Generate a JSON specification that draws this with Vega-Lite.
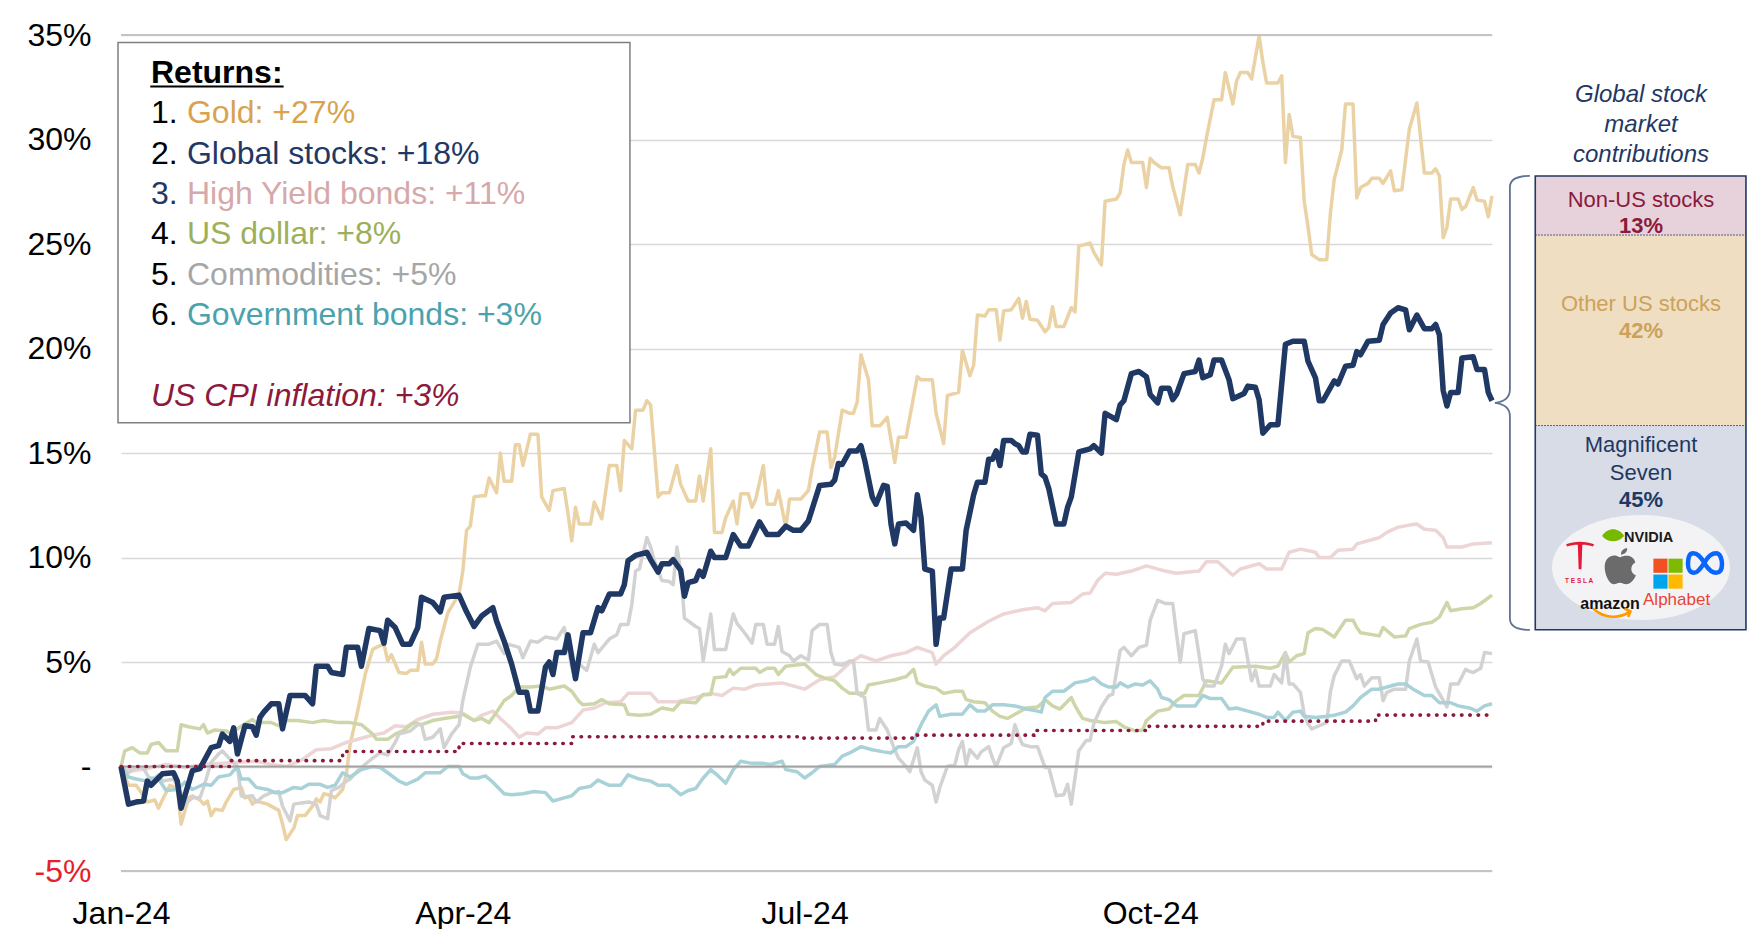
{
  "$schema": "https://vega.github.io/schema/vega-lite/v6.json",
  "background": "white",
  "padding": {"left": 26, "top": 19, "right": 0, "bottom": 0},
  "spacing": 0,
  "bounds": "flush",
  "config": {"view": {"stroke": null}, "font": "Liberation Sans"},
  "datasets": {
    "series": [
      {"s":"Gold","day":0,"v":0},{"s":"Gold","day":2,"v":-0.9},{"s":"Gold","day":4,"v":-0.9},{"s":"Gold","day":6,"v":-1.4},{"s":"Gold","day":7,"v":-1.7},{"s":"Gold","day":9,"v":-1.6},{"s":"Gold","day":10,"v":-2.0},{"s":"Gold","day":11,"v":-1.6},{"s":"Gold","day":13,"v":-0.9},{"s":"Gold","day":15,"v":-1.05},{"s":"Gold","day":16,"v":-2.75},{"s":"Gold","day":18,"v":-1.5},{"s":"Gold","day":19,"v":-1.4},{"s":"Gold","day":21,"v":-1.6},{"s":"Gold","day":22,"v":-1.8},{"s":"Gold","day":23,"v":-1.65},{"s":"Gold","day":24,"v":-2.35},{"s":"Gold","day":25,"v":-2.05},{"s":"Gold","day":27,"v":-2.1},{"s":"Gold","day":28,"v":-1.7},{"s":"Gold","day":30,"v":-1.1},{"s":"Gold","day":32,"v":-1.0},{"s":"Gold","day":33,"v":-1.5},{"s":"Gold","day":34,"v":-1.45},{"s":"Gold","day":35,"v":-1.8},{"s":"Gold","day":36,"v":-1.65},{"s":"Gold","day":39,"v":-1.8},{"s":"Gold","day":42,"v":-2.1},{"s":"Gold","day":43,"v":-2.75},{"s":"Gold","day":44,"v":-3.5},{"s":"Gold","day":46,"v":-2.95},{"s":"Gold","day":47,"v":-2.35},{"s":"Gold","day":49,"v":-2.35},{"s":"Gold","day":51,"v":-1.9},{"s":"Gold","day":52,"v":-1.55},{"s":"Gold","day":53,"v":-1.7},{"s":"Gold","day":54,"v":-1.3},{"s":"Gold","day":56,"v":-1.4},{"s":"Gold","day":57,"v":-1.5},{"s":"Gold","day":59,"v":-1.1},{"s":"Gold","day":60,"v":-0.35},{"s":"Gold","day":61,"v":1.05},{"s":"Gold","day":63,"v":2.65},{"s":"Gold","day":65,"v":4.4},{"s":"Gold","day":67,"v":5.6},{"s":"Gold","day":68,"v":5.7},{"s":"Gold","day":70,"v":5.85},{"s":"Gold","day":71,"v":5.05},{"s":"Gold","day":72,"v":5.35},{"s":"Gold","day":74,"v":4.5},{"s":"Gold","day":76,"v":4.45},{"s":"Gold","day":77,"v":4.6},{"s":"Gold","day":79,"v":4.6},{"s":"Gold","day":80,"v":5.95},{"s":"Gold","day":81,"v":4.9},{"s":"Gold","day":83,"v":4.9},{"s":"Gold","day":84,"v":5.15},{"s":"Gold","day":85,"v":6.0},{"s":"Gold","day":87,"v":7.35},{"s":"Gold","day":90,"v":8.25},{"s":"Gold","day":91,"v":9.35},{"s":"Gold","day":92,"v":11.3},{"s":"Gold","day":93,"v":11.5},{"s":"Gold","day":94,"v":12.9},{"s":"Gold","day":96,"v":12.95},{"s":"Gold","day":97,"v":12.95},{"s":"Gold","day":98,"v":13.8},{"s":"Gold","day":100,"v":13.1},{"s":"Gold","day":101,"v":15.0},{"s":"Gold","day":102,"v":13.65},{"s":"Gold","day":104,"v":13.65},{"s":"Gold","day":105,"v":15.4},{"s":"Gold","day":106,"v":15.4},{"s":"Gold","day":107,"v":14.4},{"s":"Gold","day":109,"v":15.9},{"s":"Gold","day":111,"v":15.9},{"s":"Gold","day":112,"v":12.9},{"s":"Gold","day":114,"v":12.25},{"s":"Gold","day":115,"v":13.2},{"s":"Gold","day":118,"v":13.3},{"s":"Gold","day":119,"v":12.1},{"s":"Gold","day":120,"v":10.8},{"s":"Gold","day":121,"v":12.4},{"s":"Gold","day":122,"v":11.6},{"s":"Gold","day":125,"v":11.6},{"s":"Gold","day":126,"v":12.65},{"s":"Gold","day":128,"v":11.85},{"s":"Gold","day":130,"v":14.4},{"s":"Gold","day":132,"v":14.4},{"s":"Gold","day":133,"v":13.2},{"s":"Gold","day":134,"v":15.6},{"s":"Gold","day":136,"v":15.2},{"s":"Gold","day":137,"v":17.05},{"s":"Gold","day":139,"v":17.05},{"s":"Gold","day":140,"v":17.5},{"s":"Gold","day":141,"v":17.3},{"s":"Gold","day":143,"v":12.9},{"s":"Gold","day":144,"v":13.1},{"s":"Gold","day":146,"v":13.1},{"s":"Gold","day":148,"v":14.4},{"s":"Gold","day":149,"v":13.5},{"s":"Gold","day":151,"v":12.7},{"s":"Gold","day":153,"v":12.7},{"s":"Gold","day":154,"v":13.9},{"s":"Gold","day":155,"v":12.7},{"s":"Gold","day":157,"v":15.2},{"s":"Gold","day":158,"v":11.2},{"s":"Gold","day":160,"v":11.2},{"s":"Gold","day":161,"v":11.9},{"s":"Gold","day":163,"v":12.7},{"s":"Gold","day":164,"v":11.6},{"s":"Gold","day":165,"v":13.05},{"s":"Gold","day":167,"v":13.05},{"s":"Gold","day":168,"v":12.4},{"s":"Gold","day":169,"v":12.8},{"s":"Gold","day":171,"v":14.4},{"s":"Gold","day":172,"v":12.55},{"s":"Gold","day":174,"v":12.55},{"s":"Gold","day":175,"v":13.2},{"s":"Gold","day":177,"v":11.45},{"s":"Gold","day":178,"v":12.8},{"s":"Gold","day":181,"v":12.8},{"s":"Gold","day":183,"v":13.2},{"s":"Gold","day":184,"v":14.25},{"s":"Gold","day":186,"v":16.0},{"s":"Gold","day":188,"v":16.0},{"s":"Gold","day":189,"v":14.3},{"s":"Gold","day":190,"v":14.8},{"s":"Gold","day":192,"v":17.05},{"s":"Gold","day":194,"v":16.9},{"s":"Gold","day":195,"v":16.9},{"s":"Gold","day":196,"v":17.45},{"s":"Gold","day":197,"v":19.7},{"s":"Gold","day":199,"v":18.5},{"s":"Gold","day":200,"v":16.3},{"s":"Gold","day":202,"v":16.3},{"s":"Gold","day":204,"v":16.7},{"s":"Gold","day":206,"v":14.55},{"s":"Gold","day":207,"v":15.75},{"s":"Gold","day":209,"v":15.75},{"s":"Gold","day":212,"v":18.65},{"s":"Gold","day":213,"v":18.5},{"s":"Gold","day":216,"v":18.5},{"s":"Gold","day":217,"v":16.9},{"s":"Gold","day":219,"v":15.45},{"s":"Gold","day":220,"v":17.75},{"s":"Gold","day":223,"v":17.9},{"s":"Gold","day":224,"v":19.9},{"s":"Gold","day":226,"v":18.7},{"s":"Gold","day":227,"v":19.2},{"s":"Gold","day":228,"v":21.6},{"s":"Gold","day":230,"v":21.55},{"s":"Gold","day":231,"v":21.85},{"s":"Gold","day":233,"v":21.85},{"s":"Gold","day":234,"v":20.4},{"s":"Gold","day":235,"v":21.8},{"s":"Gold","day":237,"v":21.85},{"s":"Gold","day":239,"v":22.4},{"s":"Gold","day":240,"v":21.45},{"s":"Gold","day":241,"v":22.25},{"s":"Gold","day":242,"v":21.4},{"s":"Gold","day":244,"v":21.35},{"s":"Gold","day":246,"v":20.8},{"s":"Gold","day":247,"v":21.0},{"s":"Gold","day":248,"v":22.0},{"s":"Gold","day":249,"v":21.05},{"s":"Gold","day":251,"v":21.05},{"s":"Gold","day":253,"v":21.95},{"s":"Gold","day":254,"v":21.75},{"s":"Gold","day":255,"v":24.9},{"s":"Gold","day":258,"v":25.05},{"s":"Gold","day":259,"v":24.6},{"s":"Gold","day":261,"v":24.0},{"s":"Gold","day":262,"v":27.05},{"s":"Gold","day":265,"v":27.15},{"s":"Gold","day":266,"v":27.45},{"s":"Gold","day":267,"v":28.8},{"s":"Gold","day":268,"v":29.5},{"s":"Gold","day":269,"v":28.9},{"s":"Gold","day":272,"v":28.9},{"s":"Gold","day":273,"v":27.7},{"s":"Gold","day":274,"v":29.1},{"s":"Gold","day":275,"v":28.9},{"s":"Gold","day":277,"v":28.65},{"s":"Gold","day":279,"v":28.65},{"s":"Gold","day":280,"v":27.75},{"s":"Gold","day":282,"v":26.4},{"s":"Gold","day":284,"v":28.8},{"s":"Gold","day":286,"v":28.8},{"s":"Gold","day":287,"v":28.4},{"s":"Gold","day":288,"v":29.1},{"s":"Gold","day":289,"v":30.1},{"s":"Gold","day":291,"v":31.9},{"s":"Gold","day":293,"v":31.9},{"s":"Gold","day":294,"v":33.2},{"s":"Gold","day":296,"v":31.7},{"s":"Gold","day":297,"v":32.8},{"s":"Gold","day":298,"v":33.2},{"s":"Gold","day":300,"v":33.2},{"s":"Gold","day":301,"v":32.9},{"s":"Gold","day":303,"v":34.95},{"s":"Gold","day":304,"v":33.7},{"s":"Gold","day":305,"v":32.7},{"s":"Gold","day":308,"v":32.7},{"s":"Gold","day":309,"v":33.05},{"s":"Gold","day":310,"v":28.9},{"s":"Gold","day":311,"v":31.2},{"s":"Gold","day":312,"v":30.15},{"s":"Gold","day":314,"v":30.1},{"s":"Gold","day":315,"v":27.05},{"s":"Gold","day":316,"v":25.85},{"s":"Gold","day":317,"v":24.5},{"s":"Gold","day":319,"v":24.25},{"s":"Gold","day":321,"v":24.25},{"s":"Gold","day":322,"v":26.5},{"s":"Gold","day":323,"v":28.1},{"s":"Gold","day":325,"v":29.5},{"s":"Gold","day":326,"v":31.7},{"s":"Gold","day":328,"v":31.7},{"s":"Gold","day":329,"v":27.2},{"s":"Gold","day":330,"v":27.7},{"s":"Gold","day":332,"v":27.9},{"s":"Gold","day":333,"v":28.15},{"s":"Gold","day":335,"v":28.15},{"s":"Gold","day":336,"v":27.9},{"s":"Gold","day":338,"v":28.5},{"s":"Gold","day":339,"v":27.55},{"s":"Gold","day":341,"v":27.6},{"s":"Gold","day":343,"v":30.5},{"s":"Gold","day":345,"v":31.75},{"s":"Gold","day":347,"v":28.4},{"s":"Gold","day":349,"v":28.4},{"s":"Gold","day":350,"v":28.6},{"s":"Gold","day":351,"v":28.25},{"s":"Gold","day":352,"v":25.3},{"s":"Gold","day":353,"v":25.8},{"s":"Gold","day":354,"v":27.15},{"s":"Gold","day":356,"v":27.15},{"s":"Gold","day":357,"v":26.65},{"s":"Gold","day":358,"v":26.8},{"s":"Gold","day":360,"v":27.7},{"s":"Gold","day":361,"v":27.1},{"s":"Gold","day":363,"v":27.05},{"s":"Gold","day":364,"v":26.3},{"s":"Gold","day":365,"v":27.3},

      {"s":"High Yield bonds","day":0,"v":0},{"s":"High Yield bonds","day":3,"v":-0.2},{"s":"High Yield bonds","day":7,"v":-0.1},{"s":"High Yield bonds","day":12,"v":0.1},{"s":"High Yield bonds","day":17,"v":-0.05},{"s":"High Yield bonds","day":22,"v":0.1},{"s":"High Yield bonds","day":27,"v":0.15},{"s":"High Yield bonds","day":31,"v":0.2},{"s":"High Yield bonds","day":36,"v":0.25},{"s":"High Yield bonds","day":40,"v":0.1},{"s":"High Yield bonds","day":44,"v":0},{"s":"High Yield bonds","day":48,"v":0.3},{"s":"High Yield bonds","day":52,"v":0.8},{"s":"High Yield bonds","day":56,"v":0.85},{"s":"High Yield bonds","day":60,"v":1.15},{"s":"High Yield bonds","day":64,"v":1.35},{"s":"High Yield bonds","day":67,"v":1.5},{"s":"High Yield bonds","day":70,"v":1.6},{"s":"High Yield bonds","day":73,"v":1.95},{"s":"High Yield bonds","day":76,"v":1.9},{"s":"High Yield bonds","day":79,"v":2.25},{"s":"High Yield bonds","day":83,"v":2.5},{"s":"High Yield bonds","day":88,"v":2.6},{"s":"High Yield bonds","day":91,"v":2.55},{"s":"High Yield bonds","day":94,"v":2.2},{"s":"High Yield bonds","day":96,"v":2.45},{"s":"High Yield bonds","day":99,"v":2.65},{"s":"High Yield bonds","day":101,"v":2.3},{"s":"High Yield bonds","day":104,"v":1.8},{"s":"High Yield bonds","day":106,"v":1.4},{"s":"High Yield bonds","day":108,"v":1.6},{"s":"High Yield bonds","day":111,"v":1.55},{"s":"High Yield bonds","day":113,"v":1.85},{"s":"High Yield bonds","day":116,"v":1.85},{"s":"High Yield bonds","day":120,"v":2.1},{"s":"High Yield bonds","day":123,"v":2.7},{"s":"High Yield bonds","day":126,"v":2.8},{"s":"High Yield bonds","day":129,"v":3.05},{"s":"High Yield bonds","day":133,"v":3.1},{"s":"High Yield bonds","day":135,"v":3.5},{"s":"High Yield bonds","day":141,"v":3.5},{"s":"High Yield bonds","day":143,"v":3.1},{"s":"High Yield bonds","day":148,"v":3.1},{"s":"High Yield bonds","day":153,"v":3.3},{"s":"High Yield bonds","day":157,"v":3.5},{"s":"High Yield bonds","day":160,"v":3.4},{"s":"High Yield bonds","day":163,"v":3.75},{"s":"High Yield bonds","day":166,"v":3.7},{"s":"High Yield bonds","day":169,"v":3.9},{"s":"High Yield bonds","day":176,"v":4.0},{"s":"High Yield bonds","day":182,"v":3.7},{"s":"High Yield bonds","day":186,"v":4.15},{"s":"High Yield bonds","day":190,"v":4.3},{"s":"High Yield bonds","day":194,"v":4.95},{"s":"High Yield bonds","day":197,"v":5.3},{"s":"High Yield bonds","day":201,"v":5.05},{"s":"High Yield bonds","day":205,"v":5.3},{"s":"High Yield bonds","day":209,"v":5.45},{"s":"High Yield bonds","day":212,"v":5.7},{"s":"High Yield bonds","day":216,"v":5.45},{"s":"High Yield bonds","day":217,"v":4.9},{"s":"High Yield bonds","day":219,"v":5.3},{"s":"High Yield bonds","day":222,"v":5.7},{"s":"High Yield bonds","day":226,"v":6.4},{"s":"High Yield bonds","day":231,"v":6.95},{"s":"High Yield bonds","day":235,"v":7.3},{"s":"High Yield bonds","day":240,"v":7.5},{"s":"High Yield bonds","day":244,"v":7.6},{"s":"High Yield bonds","day":246,"v":7.45},{"s":"High Yield bonds","day":248,"v":7.8},{"s":"High Yield bonds","day":253,"v":7.85},{"s":"High Yield bonds","day":256,"v":8.25},{"s":"High Yield bonds","day":258,"v":8.3},{"s":"High Yield bonds","day":260,"v":8.9},{"s":"High Yield bonds","day":262,"v":9.25},{"s":"High Yield bonds","day":265,"v":9.2},{"s":"High Yield bonds","day":269,"v":9.35},{"s":"High Yield bonds","day":273,"v":9.6},{"s":"High Yield bonds","day":278,"v":9.35},{"s":"High Yield bonds","day":281,"v":9.25},{"s":"High Yield bonds","day":287,"v":9.35},{"s":"High Yield bonds","day":289,"v":9.8},{"s":"High Yield bonds","day":292,"v":9.8},{"s":"High Yield bonds","day":296,"v":9.15},{"s":"High Yield bonds","day":298,"v":9.45},{"s":"High Yield bonds","day":303,"v":9.7},{"s":"High Yield bonds","day":305,"v":9.45},{"s":"High Yield bonds","day":309,"v":9.45},{"s":"High Yield bonds","day":311,"v":10.25},{"s":"High Yield bonds","day":314,"v":10.4},{"s":"High Yield bonds","day":318,"v":10.25},{"s":"High Yield bonds","day":319,"v":10.0},{"s":"High Yield bonds","day":322,"v":10.0},{"s":"High Yield bonds","day":324,"v":10.35},{"s":"High Yield bonds","day":328,"v":10.4},{"s":"High Yield bonds","day":329,"v":10.65},{"s":"High Yield bonds","day":332,"v":10.8},{"s":"High Yield bonds","day":335,"v":10.95},{"s":"High Yield bonds","day":337,"v":11.2},{"s":"High Yield bonds","day":340,"v":11.45},{"s":"High Yield bonds","day":343,"v":11.55},{"s":"High Yield bonds","day":345,"v":11.6},{"s":"High Yield bonds","day":347,"v":11.35},{"s":"High Yield bonds","day":350,"v":11.3},{"s":"High Yield bonds","day":352,"v":10.95},{"s":"High Yield bonds","day":353,"v":10.5},{"s":"High Yield bonds","day":357,"v":10.5},{"s":"High Yield bonds","day":360,"v":10.65},{"s":"High Yield bonds","day":365,"v":10.7},

      {"s":"US dollar","day":0,"v":0},{"s":"US dollar","day":1,"v":0.75},{"s":"US dollar","day":3,"v":0.9},{"s":"US dollar","day":5,"v":0.65},{"s":"US dollar","day":7,"v":0.65},{"s":"US dollar","day":8,"v":1.05},{"s":"US dollar","day":10,"v":1.15},{"s":"US dollar","day":12,"v":0.75},{"s":"US dollar","day":15,"v":0.75},{"s":"US dollar","day":16,"v":2.0},{"s":"US dollar","day":18,"v":1.9},{"s":"US dollar","day":21,"v":1.8},{"s":"US dollar","day":22,"v":2.0},{"s":"US dollar","day":23,"v":1.6},{"s":"US dollar","day":25,"v":1.75},{"s":"US dollar","day":28,"v":1.7},{"s":"US dollar","day":29,"v":1.6},{"s":"US dollar","day":31,"v":1.8},{"s":"US dollar","day":33,"v":2.05},{"s":"US dollar","day":35,"v":2.25},{"s":"US dollar","day":36,"v":2.1},{"s":"US dollar","day":40,"v":2.1},{"s":"US dollar","day":42,"v":1.95},{"s":"US dollar","day":43,"v":2.2},{"s":"US dollar","day":47,"v":2.2},{"s":"US dollar","day":51,"v":2.1},{"s":"US dollar","day":54,"v":2.2},{"s":"US dollar","day":58,"v":2.1},{"s":"US dollar","day":61,"v":2.1},{"s":"US dollar","day":64,"v":2.0},{"s":"US dollar","day":67,"v":1.55},{"s":"US dollar","day":68,"v":1.3},{"s":"US dollar","day":71,"v":1.3},{"s":"US dollar","day":73,"v":1.55},{"s":"US dollar","day":75,"v":1.7},{"s":"US dollar","day":78,"v":2.1},{"s":"US dollar","day":80,"v":2.0},{"s":"US dollar","day":83,"v":2.2},{"s":"US dollar","day":86,"v":2.3},{"s":"US dollar","day":90,"v":2.4},{"s":"US dollar","day":91,"v":2.5},{"s":"US dollar","day":94,"v":2.2},{"s":"US dollar","day":96,"v":2.3},{"s":"US dollar","day":98,"v":2.1},{"s":"US dollar","day":100,"v":2.6},{"s":"US dollar","day":102,"v":3.15},{"s":"US dollar","day":104,"v":3.4},{"s":"US dollar","day":106,"v":3.8},{"s":"US dollar","day":109,"v":3.8},{"s":"US dollar","day":112,"v":3.85},{"s":"US dollar","day":114,"v":3.7},{"s":"US dollar","day":118,"v":3.85},{"s":"US dollar","day":120,"v":3.6},{"s":"US dollar","day":122,"v":3.1},{"s":"US dollar","day":123,"v":2.95},{"s":"US dollar","day":126,"v":3.0},{"s":"US dollar","day":128,"v":3.2},{"s":"US dollar","day":130,"v":3.0},{"s":"US dollar","day":134,"v":2.95},{"s":"US dollar","day":135,"v":2.5},{"s":"US dollar","day":138,"v":2.45},{"s":"US dollar","day":141,"v":2.5},{"s":"US dollar","day":144,"v":2.8},{"s":"US dollar","day":147,"v":2.7},{"s":"US dollar","day":149,"v":3.1},{"s":"US dollar","day":153,"v":3.05},{"s":"US dollar","day":155,"v":3.45},{"s":"US dollar","day":157,"v":3.45},{"s":"US dollar","day":158,"v":4.25},{"s":"US dollar","day":161,"v":4.3},{"s":"US dollar","day":162,"v":4.65},{"s":"US dollar","day":163,"v":4.4},{"s":"US dollar","day":165,"v":4.7},{"s":"US dollar","day":169,"v":4.7},{"s":"US dollar","day":170,"v":4.5},{"s":"US dollar","day":172,"v":4.7},{"s":"US dollar","day":174,"v":4.7},{"s":"US dollar","day":175,"v":4.4},{"s":"US dollar","day":177,"v":4.8},{"s":"US dollar","day":182,"v":4.9},{"s":"US dollar","day":185,"v":4.4},{"s":"US dollar","day":187,"v":4.25},{"s":"US dollar","day":190,"v":4.1},{"s":"US dollar","day":192,"v":3.75},{"s":"US dollar","day":194,"v":3.5},{"s":"US dollar","day":198,"v":3.5},{"s":"US dollar","day":199,"v":3.9},{"s":"US dollar","day":202,"v":4.0},{"s":"US dollar","day":206,"v":4.15},{"s":"US dollar","day":209,"v":4.3},{"s":"US dollar","day":211,"v":4.65},{"s":"US dollar","day":212,"v":4.0},{"s":"US dollar","day":214,"v":3.85},{"s":"US dollar","day":217,"v":3.75},{"s":"US dollar","day":219,"v":3.5},{"s":"US dollar","day":222,"v":3.6},{"s":"US dollar","day":224,"v":3.6},{"s":"US dollar","day":225,"v":3.2},{"s":"US dollar","day":227,"v":3.1},{"s":"US dollar","day":230,"v":3.05},{"s":"US dollar","day":232,"v":2.65},{"s":"US dollar","day":234,"v":2.4},{"s":"US dollar","day":236,"v":2.3},{"s":"US dollar","day":239,"v":2.6},{"s":"US dollar","day":241,"v":2.8},{"s":"US dollar","day":244,"v":2.85},{"s":"US dollar","day":245,"v":3.0},{"s":"US dollar","day":246,"v":3.2},{"s":"US dollar","day":248,"v":2.9},{"s":"US dollar","day":250,"v":2.75},{"s":"US dollar","day":253,"v":3.3},{"s":"US dollar","day":254,"v":2.9},{"s":"US dollar","day":256,"v":2.3},{"s":"US dollar","day":258,"v":2.2},{"s":"US dollar","day":262,"v":2.1},{"s":"US dollar","day":265,"v":2.15},{"s":"US dollar","day":267,"v":1.9},{"s":"US dollar","day":270,"v":1.7},{"s":"US dollar","day":272,"v":1.75},{"s":"US dollar","day":273,"v":2.2},{"s":"US dollar","day":276,"v":2.65},{"s":"US dollar","day":279,"v":2.75},{"s":"US dollar","day":281,"v":3.15},{"s":"US dollar","day":283,"v":3.4},{"s":"US dollar","day":287,"v":3.4},{"s":"US dollar","day":289,"v":4.1},{"s":"US dollar","day":293,"v":4.0},{"s":"US dollar","day":296,"v":4.75},{"s":"US dollar","day":302,"v":4.8},{"s":"US dollar","day":306,"v":4.7},{"s":"US dollar","day":308,"v":4.8},{"s":"US dollar","day":310,"v":5.45},{"s":"US dollar","day":311,"v":5.0},{"s":"US dollar","day":313,"v":5.3},{"s":"US dollar","day":315,"v":5.4},{"s":"US dollar","day":316,"v":6.4},{"s":"US dollar","day":318,"v":6.6},{"s":"US dollar","day":320,"v":6.55},{"s":"US dollar","day":323,"v":6.2},{"s":"US dollar","day":326,"v":7.0},{"s":"US dollar","day":328,"v":7.0},{"s":"US dollar","day":329,"v":6.65},{"s":"US dollar","day":330,"v":6.4},{"s":"US dollar","day":335,"v":6.25},{"s":"US dollar","day":336,"v":6.65},{"s":"US dollar","day":339,"v":6.2},{"s":"US dollar","day":342,"v":6.25},{"s":"US dollar","day":343,"v":6.6},{"s":"US dollar","day":346,"v":6.8},{"s":"US dollar","day":349,"v":6.9},{"s":"US dollar","day":351,"v":7.15},{"s":"US dollar","day":353,"v":7.85},{"s":"US dollar","day":354,"v":7.45},{"s":"US dollar","day":357,"v":7.55},{"s":"US dollar","day":360,"v":7.6},{"s":"US dollar","day":362,"v":7.8},{"s":"US dollar","day":365,"v":8.2},

      {"s":"Commodities","day":0,"v":0},{"s":"Commodities","day":2,"v":-0.3},{"s":"Commodities","day":4,"v":-0.05},{"s":"Commodities","day":6,"v":-0.1},{"s":"Commodities","day":8,"v":-0.7},{"s":"Commodities","day":10,"v":-0.4},{"s":"Commodities","day":11,"v":-0.7},{"s":"Commodities","day":14,"v":-0.6},{"s":"Commodities","day":16,"v":-1.3},{"s":"Commodities","day":17,"v":-1.8},{"s":"Commodities","day":19,"v":-1.5},{"s":"Commodities","day":21,"v":-1.5},{"s":"Commodities","day":22,"v":-1.0},{"s":"Commodities","day":24,"v":0.2},{"s":"Commodities","day":26,"v":0.6},{"s":"Commodities","day":27,"v":0.75},{"s":"Commodities","day":29,"v":0.35},{"s":"Commodities","day":31,"v":0},{"s":"Commodities","day":32,"v":-1.4},{"s":"Commodities","day":33,"v":-1.45},{"s":"Commodities","day":35,"v":-1.4},{"s":"Commodities","day":36,"v":-1.7},{"s":"Commodities","day":38,"v":-1.4},{"s":"Commodities","day":40,"v":-1.25},{"s":"Commodities","day":42,"v":-1.2},{"s":"Commodities","day":43,"v":-1.9},{"s":"Commodities","day":45,"v":-2.6},{"s":"Commodities","day":46,"v":-1.8},{"s":"Commodities","day":48,"v":-1.75},{"s":"Commodities","day":50,"v":-1.7},{"s":"Commodities","day":52,"v":-1.8},{"s":"Commodities","day":53,"v":-2.35},{"s":"Commodities","day":55,"v":-2.5},{"s":"Commodities","day":56,"v":-1.15},{"s":"Commodities","day":58,"v":-1.0},{"s":"Commodities","day":60,"v":-0.7},{"s":"Commodities","day":61,"v":-0.6},{"s":"Commodities","day":63,"v":-0.2},{"s":"Commodities","day":66,"v":0.25},{"s":"Commodities","day":67,"v":0.4},{"s":"Commodities","day":69,"v":0.65},{"s":"Commodities","day":71,"v":0.55},{"s":"Commodities","day":73,"v":1.15},{"s":"Commodities","day":74,"v":1.55},{"s":"Commodities","day":77,"v":1.7},{"s":"Commodities","day":79,"v":2.0},{"s":"Commodities","day":80,"v":2.0},{"s":"Commodities","day":81,"v":1.3},{"s":"Commodities","day":83,"v":1.4},{"s":"Commodities","day":85,"v":1.8},{"s":"Commodities","day":86,"v":0.9},{"s":"Commodities","day":88,"v":1.55},{"s":"Commodities","day":90,"v":2.0},{"s":"Commodities","day":91,"v":3.15},{"s":"Commodities","day":93,"v":4.75},{"s":"Commodities","day":95,"v":5.85},{"s":"Commodities","day":98,"v":5.85},{"s":"Commodities","day":100,"v":6.0},{"s":"Commodities","day":102,"v":5.4},{"s":"Commodities","day":103,"v":5.85},{"s":"Commodities","day":106,"v":5.7},{"s":"Commodities","day":107,"v":5.2},{"s":"Commodities","day":109,"v":6.0},{"s":"Commodities","day":111,"v":5.95},{"s":"Commodities","day":113,"v":6.2},{"s":"Commodities","day":116,"v":6.1},{"s":"Commodities","day":118,"v":6.65},{"s":"Commodities","day":120,"v":4.75},{"s":"Commodities","day":121,"v":4.25},{"s":"Commodities","day":122,"v":4.9},{"s":"Commodities","day":124,"v":4.6},{"s":"Commodities","day":126,"v":5.85},{"s":"Commodities","day":127,"v":5.45},{"s":"Commodities","day":130,"v":6.1},{"s":"Commodities","day":132,"v":6.3},{"s":"Commodities","day":133,"v":6.8},{"s":"Commodities","day":135,"v":6.8},{"s":"Commodities","day":136,"v":7.75},{"s":"Commodities","day":137,"v":9.35},{"s":"Commodities","day":138,"v":9.45},{"s":"Commodities","day":140,"v":10.95},{"s":"Commodities","day":141,"v":10.5},{"s":"Commodities","day":142,"v":9.85},{"s":"Commodities","day":144,"v":8.9},{"s":"Commodities","day":146,"v":8.85},{"s":"Commodities","day":147,"v":8.7},{"s":"Commodities","day":148,"v":10.5},{"s":"Commodities","day":149,"v":9.35},{"s":"Commodities","day":150,"v":7.1},{"s":"Commodities","day":153,"v":6.7},{"s":"Commodities","day":154,"v":6.6},{"s":"Commodities","day":155,"v":5.05},{"s":"Commodities","day":157,"v":7.3},{"s":"Commodities","day":158,"v":5.6},{"s":"Commodities","day":161,"v":5.6},{"s":"Commodities","day":163,"v":7.3},{"s":"Commodities","day":164,"v":6.85},{"s":"Commodities","day":166,"v":6.4},{"s":"Commodities","day":168,"v":5.9},{"s":"Commodities","day":169,"v":6.8},{"s":"Commodities","day":171,"v":6.8},{"s":"Commodities","day":172,"v":5.85},{"s":"Commodities","day":174,"v":5.85},{"s":"Commodities","day":175,"v":6.7},{"s":"Commodities","day":176,"v":5.5},{"s":"Commodities","day":178,"v":5.3},{"s":"Commodities","day":179,"v":5.05},{"s":"Commodities","day":181,"v":5.3},{"s":"Commodities","day":183,"v":5.1},{"s":"Commodities","day":184,"v":6.5},{"s":"Commodities","day":186,"v":6.8},{"s":"Commodities","day":188,"v":6.8},{"s":"Commodities","day":189,"v":5.45},{"s":"Commodities","day":190,"v":4.9},{"s":"Commodities","day":192,"v":4.85},{"s":"Commodities","day":194,"v":5.05},{"s":"Commodities","day":195,"v":5.05},{"s":"Commodities","day":196,"v":3.5},{"s":"Commodities","day":198,"v":3.3},{"s":"Commodities","day":199,"v":1.75},{"s":"Commodities","day":201,"v":1.75},{"s":"Commodities","day":202,"v":2.3},{"s":"Commodities","day":204,"v":1.75},{"s":"Commodities","day":206,"v":0.8},{"s":"Commodities","day":207,"v":0.4},{"s":"Commodities","day":209,"v":0},{"s":"Commodities","day":210,"v":-0.25},{"s":"Commodities","day":212,"v":0.9},{"s":"Commodities","day":213,"v":-0.25},{"s":"Commodities","day":214,"v":-0.65},{"s":"Commodities","day":216,"v":-0.9},{"s":"Commodities","day":217,"v":-1.7},{"s":"Commodities","day":218,"v":-1.0},{"s":"Commodities","day":220,"v":0},{"s":"Commodities","day":222,"v":0.1},{"s":"Commodities","day":223,"v":0.8},{"s":"Commodities","day":224,"v":1.2},{"s":"Commodities","day":225,"v":0.1},{"s":"Commodities","day":226,"v":0.8},{"s":"Commodities","day":228,"v":0.4},{"s":"Commodities","day":229,"v":0.7},{"s":"Commodities","day":231,"v":0.95},{"s":"Commodities","day":232,"v":0.4},{"s":"Commodities","day":233,"v":0},{"s":"Commodities","day":235,"v":0.9},{"s":"Commodities","day":237,"v":1.1},{"s":"Commodities","day":238,"v":2.0},{"s":"Commodities","day":239,"v":1.45},{"s":"Commodities","day":240,"v":1.05},{"s":"Commodities","day":242,"v":0.95},{"s":"Commodities","day":244,"v":0.95},{"s":"Commodities","day":246,"v":-0.05},{"s":"Commodities","day":247,"v":-0.05},{"s":"Commodities","day":249,"v":-1.4},{"s":"Commodities","day":251,"v":-1.35},{"s":"Commodities","day":252,"v":-0.85},{"s":"Commodities","day":253,"v":-1.8},{"s":"Commodities","day":255,"v":0.75},{"s":"Commodities","day":257,"v":1.25},{"s":"Commodities","day":258,"v":1.25},{"s":"Commodities","day":259,"v":2.05},{"s":"Commodities","day":261,"v":2.85},{"s":"Commodities","day":263,"v":3.4},{"s":"Commodities","day":264,"v":3.45},{"s":"Commodities","day":266,"v":5.55},{"s":"Commodities","day":267,"v":5.7},{"s":"Commodities","day":269,"v":5.3},{"s":"Commodities","day":271,"v":5.7},{"s":"Commodities","day":273,"v":5.8},{"s":"Commodities","day":274,"v":7.0},{"s":"Commodities","day":276,"v":7.95},{"s":"Commodities","day":278,"v":7.8},{"s":"Commodities","day":280,"v":7.8},{"s":"Commodities","day":281,"v":6.35},{"s":"Commodities","day":282,"v":5.0},{"s":"Commodities","day":283,"v":6.35},{"s":"Commodities","day":286,"v":6.5},{"s":"Commodities","day":288,"v":4.2},{"s":"Commodities","day":289,"v":3.85},{"s":"Commodities","day":291,"v":3.85},{"s":"Commodities","day":293,"v":4.8},{"s":"Commodities","day":294,"v":5.85},{"s":"Commodities","day":295,"v":5.4},{"s":"Commodities","day":297,"v":6.1},{"s":"Commodities","day":299,"v":6.1},{"s":"Commodities","day":301,"v":4.1},{"s":"Commodities","day":302,"v":4.6},{"s":"Commodities","day":303,"v":3.85},{"s":"Commodities","day":306,"v":3.85},{"s":"Commodities","day":307,"v":4.4},{"s":"Commodities","day":309,"v":4.0},{"s":"Commodities","day":310,"v":5.4},{"s":"Commodities","day":311,"v":3.95},{"s":"Commodities","day":312,"v":3.95},{"s":"Commodities","day":314,"v":3.55},{"s":"Commodities","day":315,"v":2.5},{"s":"Commodities","day":316,"v":2.05},{"s":"Commodities","day":317,"v":1.8},{"s":"Commodities","day":319,"v":1.95},{"s":"Commodities","day":321,"v":2.1},{"s":"Commodities","day":322,"v":3.6},{"s":"Commodities","day":323,"v":4.35},{"s":"Commodities","day":325,"v":5.05},{"s":"Commodities","day":327,"v":5.05},{"s":"Commodities","day":329,"v":4.2},{"s":"Commodities","day":330,"v":4.4},{"s":"Commodities","day":331,"v":3.85},{"s":"Commodities","day":333,"v":4.25},{"s":"Commodities","day":335,"v":4.25},{"s":"Commodities","day":336,"v":3.15},{"s":"Commodities","day":337,"v":3.55},{"s":"Commodities","day":339,"v":3.7},{"s":"Commodities","day":342,"v":3.7},{"s":"Commodities","day":343,"v":5.05},{"s":"Commodities","day":345,"v":6.1},{"s":"Commodities","day":346,"v":5.05},{"s":"Commodities","day":348,"v":5.0},{"s":"Commodities","day":350,"v":3.8},{"s":"Commodities","day":353,"v":2.85},{"s":"Commodities","day":354,"v":3.95},{"s":"Commodities","day":356,"v":3.95},{"s":"Commodities","day":358,"v":4.65},{"s":"Commodities","day":359,"v":4.55},{"s":"Commodities","day":360,"v":4.5},{"s":"Commodities","day":362,"v":4.7},{"s":"Commodities","day":363,"v":5.45},{"s":"Commodities","day":365,"v":5.4},

      {"s":"Government bonds","day":0,"v":0},{"s":"Government bonds","day":2,"v":-0.5},{"s":"Government bonds","day":4,"v":-0.6},{"s":"Government bonds","day":7,"v":-0.7},{"s":"Government bonds","day":8,"v":-0.55},{"s":"Government bonds","day":10,"v":-0.6},{"s":"Government bonds","day":12,"v":-1.15},{"s":"Government bonds","day":15,"v":-1.1},{"s":"Government bonds","day":17,"v":-0.75},{"s":"Government bonds","day":19,"v":-1.1},{"s":"Government bonds","day":22,"v":-0.85},{"s":"Government bonds","day":24,"v":-0.9},{"s":"Government bonds","day":26,"v":-0.5},{"s":"Government bonds","day":29,"v":-0.4},{"s":"Government bonds","day":31,"v":0},{"s":"Government bonds","day":32,"v":-0.6},{"s":"Government bonds","day":34,"v":-0.6},{"s":"Government bonds","day":36,"v":-1.0},{"s":"Government bonds","day":39,"v":-1.1},{"s":"Government bonds","day":41,"v":-1.25},{"s":"Government bonds","day":43,"v":-1.25},{"s":"Government bonds","day":46,"v":-1.0},{"s":"Government bonds","day":48,"v":-1.05},{"s":"Government bonds","day":50,"v":-0.85},{"s":"Government bonds","day":53,"v":-0.85},{"s":"Government bonds","day":55,"v":-1.0},{"s":"Government bonds","day":57,"v":-0.9},{"s":"Government bonds","day":59,"v":-0.3},{"s":"Government bonds","day":61,"v":-0.5},{"s":"Government bonds","day":64,"v":-0.15},{"s":"Government bonds","day":67,"v":0},{"s":"Government bonds","day":69,"v":-0.05},{"s":"Government bonds","day":71,"v":-0.3},{"s":"Government bonds","day":74,"v":-0.7},{"s":"Government bonds","day":76,"v":-0.85},{"s":"Government bonds","day":79,"v":-0.6},{"s":"Government bonds","day":81,"v":-0.3},{"s":"Government bonds","day":85,"v":-0.3},{"s":"Government bonds","day":87,"v":0},{"s":"Government bonds","day":90,"v":0},{"s":"Government bonds","day":91,"v":-0.35},{"s":"Government bonds","day":93,"v":-0.55},{"s":"Government bonds","day":95,"v":-0.55},{"s":"Government bonds","day":97,"v":-0.45},{"s":"Government bonds","day":99,"v":-0.75},{"s":"Government bonds","day":102,"v":-1.3},{"s":"Government bonds","day":104,"v":-1.35},{"s":"Government bonds","day":107,"v":-1.3},{"s":"Government bonds","day":110,"v":-1.2},{"s":"Government bonds","day":113,"v":-1.25},{"s":"Government bonds","day":115,"v":-1.65},{"s":"Government bonds","day":118,"v":-1.5},{"s":"Government bonds","day":120,"v":-1.4},{"s":"Government bonds","day":122,"v":-1.05},{"s":"Government bonds","day":125,"v":-0.95},{"s":"Government bonds","day":127,"v":-0.65},{"s":"Government bonds","day":130,"v":-0.9},{"s":"Government bonds","day":133,"v":-0.9},{"s":"Government bonds","day":135,"v":-0.4},{"s":"Government bonds","day":138,"v":-0.6},{"s":"Government bonds","day":141,"v":-0.7},{"s":"Government bonds","day":143,"v":-0.9},{"s":"Government bonds","day":146,"v":-0.9},{"s":"Government bonds","day":149,"v":-1.35},{"s":"Government bonds","day":151,"v":-1.15},{"s":"Government bonds","day":153,"v":-1.05},{"s":"Government bonds","day":155,"v":-0.55},{"s":"Government bonds","day":157,"v":-0.15},{"s":"Government bonds","day":159,"v":-0.45},{"s":"Government bonds","day":161,"v":-0.8},{"s":"Government bonds","day":163,"v":-0.15},{"s":"Government bonds","day":165,"v":0.25},{"s":"Government bonds","day":168,"v":0.15},{"s":"Government bonds","day":171,"v":0.15},{"s":"Government bonds","day":173,"v":0.1},{"s":"Government bonds","day":176,"v":0.25},{"s":"Government bonds","day":177,"v":-0.15},{"s":"Government bonds","day":180,"v":-0.25},{"s":"Government bonds","day":182,"v":-0.55},{"s":"Government bonds","day":184,"v":-0.3},{"s":"Government bonds","day":186,"v":0},{"s":"Government bonds","day":190,"v":0.1},{"s":"Government bonds","day":192,"v":0.5},{"s":"Government bonds","day":194,"v":0.65},{"s":"Government bonds","day":197,"v":0.95},{"s":"Government bonds","day":200,"v":0.8},{"s":"Government bonds","day":203,"v":0.7},{"s":"Government bonds","day":205,"v":0.65},{"s":"Government bonds","day":207,"v":0.95},{"s":"Government bonds","day":209,"v":0.95},{"s":"Government bonds","day":211,"v":1.2},{"s":"Government bonds","day":213,"v":2.0},{"s":"Government bonds","day":215,"v":2.65},{"s":"Government bonds","day":217,"v":2.95},{"s":"Government bonds","day":218,"v":2.4},{"s":"Government bonds","day":221,"v":2.5},{"s":"Government bonds","day":224,"v":2.5},{"s":"Government bonds","day":226,"v":2.95},{"s":"Government bonds","day":228,"v":2.65},{"s":"Government bonds","day":230,"v":2.65},{"s":"Government bonds","day":232,"v":2.95},{"s":"Government bonds","day":235,"v":2.95},{"s":"Government bonds","day":238,"v":2.9},{"s":"Government bonds","day":241,"v":2.75},{"s":"Government bonds","day":244,"v":2.65},{"s":"Government bonds","day":245,"v":2.6},{"s":"Government bonds","day":246,"v":3.3},{"s":"Government bonds","day":248,"v":3.6},{"s":"Government bonds","day":251,"v":3.6},{"s":"Government bonds","day":254,"v":4.0},{"s":"Government bonds","day":257,"v":4.1},{"s":"Government bonds","day":259,"v":4.25},{"s":"Government bonds","day":261,"v":3.95},{"s":"Government bonds","day":263,"v":3.8},{"s":"Government bonds","day":265,"v":3.8},{"s":"Government bonds","day":266,"v":4.0},{"s":"Government bonds","day":268,"v":3.8},{"s":"Government bonds","day":270,"v":3.95},{"s":"Government bonds","day":272,"v":3.9},{"s":"Government bonds","day":274,"v":4.1},{"s":"Government bonds","day":276,"v":3.7},{"s":"Government bonds","day":277,"v":3.3},{"s":"Government bonds","day":279,"v":3.2},{"s":"Government bonds","day":281,"v":2.9},{"s":"Government bonds","day":286,"v":2.9},{"s":"Government bonds","day":288,"v":3.4},{"s":"Government bonds","day":290,"v":3.25},{"s":"Government bonds","day":293,"v":3.25},{"s":"Government bonds","day":295,"v":2.75},{"s":"Government bonds","day":297,"v":2.8},{"s":"Government bonds","day":300,"v":2.65},{"s":"Government bonds","day":303,"v":2.5},{"s":"Government bonds","day":305,"v":2.35},{"s":"Government bonds","day":307,"v":2.35},{"s":"Government bonds","day":308,"v":2.6},{"s":"Government bonds","day":310,"v":2.2},{"s":"Government bonds","day":312,"v":2.6},{"s":"Government bonds","day":314,"v":2.65},{"s":"Government bonds","day":315,"v":2.4},{"s":"Government bonds","day":318,"v":2.35},{"s":"Government bonds","day":321,"v":2.4},{"s":"Government bonds","day":323,"v":2.45},{"s":"Government bonds","day":326,"v":2.6},{"s":"Government bonds","day":328,"v":2.9},{"s":"Government bonds","day":330,"v":3.3},{"s":"Government bonds","day":333,"v":3.7},{"s":"Government bonds","day":335,"v":3.7},{"s":"Government bonds","day":338,"v":3.85},{"s":"Government bonds","day":340,"v":3.95},{"s":"Government bonds","day":342,"v":3.95},{"s":"Government bonds","day":344,"v":3.7},{"s":"Government bonds","day":347,"v":3.4},{"s":"Government bonds","day":349,"v":3.4},{"s":"Government bonds","day":351,"v":3.05},{"s":"Government bonds","day":354,"v":3.05},{"s":"Government bonds","day":356,"v":2.9},{"s":"Government bonds","day":359,"v":2.8},{"s":"Government bonds","day":361,"v":2.65},{"s":"Government bonds","day":363,"v":2.9},{"s":"Government bonds","day":365,"v":3.0},

      {"s":"Global stocks","day":0,"v":0},{"s":"Global stocks","day":2,"v":-1.8},{"s":"Global stocks","day":4,"v":-1.7},{"s":"Global stocks","day":6,"v":-1.65},{"s":"Global stocks","day":7,"v":-0.7},{"s":"Global stocks","day":8,"v":-0.9},{"s":"Global stocks","day":11,"v":-0.35},{"s":"Global stocks","day":14,"v":-0.3},{"s":"Global stocks","day":15,"v":-0.7},{"s":"Global stocks","day":16,"v":-2.0},{"s":"Global stocks","day":19,"v":-0.2},{"s":"Global stocks","day":21,"v":-0.1},{"s":"Global stocks","day":24,"v":0.9},{"s":"Global stocks","day":26,"v":1.0},{"s":"Global stocks","day":27,"v":1.55},{"s":"Global stocks","day":29,"v":1.2},{"s":"Global stocks","day":30,"v":1.85},{"s":"Global stocks","day":31,"v":0.6},{"s":"Global stocks","day":33,"v":1.95},{"s":"Global stocks","day":35,"v":1.9},{"s":"Global stocks","day":36,"v":1.5},{"s":"Global stocks","day":37,"v":2.35},{"s":"Global stocks","day":38,"v":2.6},{"s":"Global stocks","day":40,"v":3.0},{"s":"Global stocks","day":42,"v":3.0},{"s":"Global stocks","day":43,"v":1.8},{"s":"Global stocks","day":45,"v":3.4},{"s":"Global stocks","day":49,"v":3.4},{"s":"Global stocks","day":51,"v":3.0},{"s":"Global stocks","day":52,"v":4.8},{"s":"Global stocks","day":55,"v":4.8},{"s":"Global stocks","day":56,"v":4.5},{"s":"Global stocks","day":59,"v":4.4},{"s":"Global stocks","day":60,"v":5.7},{"s":"Global stocks","day":63,"v":5.7},{"s":"Global stocks","day":64,"v":4.8},{"s":"Global stocks","day":66,"v":6.6},{"s":"Global stocks","day":69,"v":6.5},{"s":"Global stocks","day":70,"v":5.9},{"s":"Global stocks","day":71,"v":7.0},{"s":"Global stocks","day":73,"v":6.65},{"s":"Global stocks","day":75,"v":5.85},{"s":"Global stocks","day":77,"v":5.85},{"s":"Global stocks","day":79,"v":6.65},{"s":"Global stocks","day":80,"v":8.1},{"s":"Global stocks","day":83,"v":7.85},{"s":"Global stocks","day":85,"v":7.4},{"s":"Global stocks","day":86,"v":8.1},{"s":"Global stocks","day":90,"v":8.2},{"s":"Global stocks","day":92,"v":7.4},{"s":"Global stocks","day":94,"v":6.7},{"s":"Global stocks","day":96,"v":7.2},{"s":"Global stocks","day":99,"v":7.6},{"s":"Global stocks","day":100,"v":6.95},{"s":"Global stocks","day":102,"v":6.0},{"s":"Global stocks","day":104,"v":4.9},{"s":"Global stocks","day":106,"v":3.55},{"s":"Global stocks","day":108,"v":3.55},{"s":"Global stocks","day":109,"v":2.65},{"s":"Global stocks","day":111,"v":2.65},{"s":"Global stocks","day":113,"v":4.75},{"s":"Global stocks","day":114,"v":5.0},{"s":"Global stocks","day":115,"v":4.4},{"s":"Global stocks","day":116,"v":5.45},{"s":"Global stocks","day":118,"v":5.45},{"s":"Global stocks","day":119,"v":6.3},{"s":"Global stocks","day":121,"v":4.2},{"s":"Global stocks","day":123,"v":6.4},{"s":"Global stocks","day":125,"v":6.4},{"s":"Global stocks","day":127,"v":7.6},{"s":"Global stocks","day":128,"v":7.45},{"s":"Global stocks","day":130,"v":8.25},{"s":"Global stocks","day":133,"v":8.25},{"s":"Global stocks","day":134,"v":8.7},{"s":"Global stocks","day":135,"v":9.85},{"s":"Global stocks","day":137,"v":10.1},{"s":"Global stocks","day":140,"v":10.25},{"s":"Global stocks","day":141,"v":9.9},{"s":"Global stocks","day":143,"v":9.3},{"s":"Global stocks","day":144,"v":9.7},{"s":"Global stocks","day":146,"v":9.7},{"s":"Global stocks","day":147,"v":9.9},{"s":"Global stocks","day":149,"v":9.4},{"s":"Global stocks","day":150,"v":8.15},{"s":"Global stocks","day":151,"v":8.8},{"s":"Global stocks","day":153,"v":8.9},{"s":"Global stocks","day":154,"v":9.35},{"s":"Global stocks","day":155,"v":9.1},{"s":"Global stocks","day":157,"v":10.3},{"s":"Global stocks","day":158,"v":10.0},{"s":"Global stocks","day":161,"v":10.0},{"s":"Global stocks","day":163,"v":11.1},{"s":"Global stocks","day":165,"v":10.55},{"s":"Global stocks","day":167,"v":10.55},{"s":"Global stocks","day":170,"v":11.7},{"s":"Global stocks","day":172,"v":11.1},{"s":"Global stocks","day":175,"v":11.1},{"s":"Global stocks","day":177,"v":11.5},{"s":"Global stocks","day":179,"v":11.3},{"s":"Global stocks","day":181,"v":11.3},{"s":"Global stocks","day":183,"v":11.75},{"s":"Global stocks","day":186,"v":13.45},{"s":"Global stocks","day":189,"v":13.5},{"s":"Global stocks","day":190,"v":13.7},{"s":"Global stocks","day":191,"v":14.5},{"s":"Global stocks","day":192,"v":14.45},{"s":"Global stocks","day":194,"v":15.1},{"s":"Global stocks","day":196,"v":15.1},{"s":"Global stocks","day":197,"v":15.35},{"s":"Global stocks","day":198,"v":14.65},{"s":"Global stocks","day":200,"v":12.9},{"s":"Global stocks","day":201,"v":12.55},{"s":"Global stocks","day":203,"v":13.45},{"s":"Global stocks","day":204,"v":13.4},{"s":"Global stocks","day":205,"v":11.6},{"s":"Global stocks","day":206,"v":10.65},{"s":"Global stocks","day":207,"v":11.6},{"s":"Global stocks","day":209,"v":11.65},{"s":"Global stocks","day":211,"v":11.3},{"s":"Global stocks","day":212,"v":13.0},{"s":"Global stocks","day":213,"v":11.9},{"s":"Global stocks","day":214,"v":9.45},{"s":"Global stocks","day":216,"v":9.35},{"s":"Global stocks","day":217,"v":5.85},{"s":"Global stocks","day":218,"v":7.1},{"s":"Global stocks","day":219,"v":7.1},{"s":"Global stocks","day":221,"v":9.45},{"s":"Global stocks","day":224,"v":9.45},{"s":"Global stocks","day":225,"v":11.3},{"s":"Global stocks","day":227,"v":13.0},{"s":"Global stocks","day":228,"v":13.6},{"s":"Global stocks","day":230,"v":13.6},{"s":"Global stocks","day":231,"v":14.7},{"s":"Global stocks","day":232,"v":14.7},{"s":"Global stocks","day":233,"v":15.1},{"s":"Global stocks","day":234,"v":14.4},{"s":"Global stocks","day":235,"v":15.6},{"s":"Global stocks","day":237,"v":15.6},{"s":"Global stocks","day":238,"v":15.45},{"s":"Global stocks","day":239,"v":15.35},{"s":"Global stocks","day":240,"v":15.05},{"s":"Global stocks","day":241,"v":15.05},{"s":"Global stocks","day":242,"v":15.9},{"s":"Global stocks","day":244,"v":15.85},{"s":"Global stocks","day":245,"v":14.0},{"s":"Global stocks","day":246,"v":13.85},{"s":"Global stocks","day":247,"v":13.3},{"s":"Global stocks","day":249,"v":11.6},{"s":"Global stocks","day":251,"v":11.6},{"s":"Global stocks","day":252,"v":12.4},{"s":"Global stocks","day":253,"v":12.9},{"s":"Global stocks","day":255,"v":15.05},{"s":"Global stocks","day":258,"v":15.2},{"s":"Global stocks","day":259,"v":15.35},{"s":"Global stocks","day":261,"v":15.0},{"s":"Global stocks","day":262,"v":16.9},{"s":"Global stocks","day":265,"v":16.6},{"s":"Global stocks","day":266,"v":17.3},{"s":"Global stocks","day":267,"v":17.5},{"s":"Global stocks","day":269,"v":18.8},{"s":"Global stocks","day":271,"v":18.9},{"s":"Global stocks","day":273,"v":18.65},{"s":"Global stocks","day":274,"v":17.8},{"s":"Global stocks","day":276,"v":17.4},{"s":"Global stocks","day":277,"v":18.1},{"s":"Global stocks","day":279,"v":18.1},{"s":"Global stocks","day":280,"v":17.55},{"s":"Global stocks","day":281,"v":17.8},{"s":"Global stocks","day":283,"v":18.8},{"s":"Global stocks","day":286,"v":18.9},{"s":"Global stocks","day":287,"v":19.45},{"s":"Global stocks","day":288,"v":18.6},{"s":"Global stocks","day":290,"v":18.75},{"s":"Global stocks","day":291,"v":19.45},{"s":"Global stocks","day":293,"v":19.45},{"s":"Global stocks","day":295,"v":18.5},{"s":"Global stocks","day":296,"v":17.6},{"s":"Global stocks","day":299,"v":17.85},{"s":"Global stocks","day":300,"v":18.2},{"s":"Global stocks","day":302,"v":18.15},{"s":"Global stocks","day":303,"v":17.55},{"s":"Global stocks","day":304,"v":15.95},{"s":"Global stocks","day":306,"v":16.35},{"s":"Global stocks","day":308,"v":16.35},{"s":"Global stocks","day":310,"v":20.2},{"s":"Global stocks","day":312,"v":20.35},{"s":"Global stocks","day":315,"v":20.35},{"s":"Global stocks","day":316,"v":19.4},{"s":"Global stocks","day":318,"v":18.6},{"s":"Global stocks","day":319,"v":17.5},{"s":"Global stocks","day":320,"v":17.5},{"s":"Global stocks","day":323,"v":18.45},{"s":"Global stocks","day":324,"v":18.3},{"s":"Global stocks","day":326,"v":19.15},{"s":"Global stocks","day":328,"v":19.2},{"s":"Global stocks","day":329,"v":19.85},{"s":"Global stocks","day":330,"v":19.7},{"s":"Global stocks","day":332,"v":20.35},{"s":"Global stocks","day":335,"v":20.4},{"s":"Global stocks","day":336,"v":21.15},{"s":"Global stocks","day":338,"v":21.7},{"s":"Global stocks","day":340,"v":21.95},{"s":"Global stocks","day":342,"v":21.85},{"s":"Global stocks","day":343,"v":20.9},{"s":"Global stocks","day":345,"v":21.6},{"s":"Global stocks","day":347,"v":20.95},{"s":"Global stocks","day":349,"v":20.95},{"s":"Global stocks","day":350,"v":21.15},{"s":"Global stocks","day":351,"v":20.65},{"s":"Global stocks","day":352,"v":18.0},{"s":"Global stocks","day":353,"v":17.25},{"s":"Global stocks","day":354,"v":17.9},{"s":"Global stocks","day":356,"v":17.9},{"s":"Global stocks","day":357,"v":19.55},{"s":"Global stocks","day":360,"v":19.6},{"s":"Global stocks","day":361,"v":19.0},{"s":"Global stocks","day":363,"v":19.0},{"s":"Global stocks","day":364,"v":17.9},{"s":"Global stocks","day":365,"v":17.5},

      {"s":"US CPI","day":0,"v":0},{"s":"US CPI","day":29,"v":0.28},{"s":"US CPI","day":59,"v":0.72},{"s":"US CPI","day":90,"v":1.1},{"s":"US CPI","day":120,"v":1.42},{"s":"US CPI","day":181,"v":1.36},{"s":"US CPI","day":212,"v":1.5},{"s":"US CPI","day":243,"v":1.72},{"s":"US CPI","day":273,"v":1.92},{"s":"US CPI","day":304,"v":2.17},{"s":"US CPI","day":334,"v":2.46},{"s":"US CPI","day":365,"v":2.46}
    ],
    "legend": [
      {"rank":1,"num":"1.","label":"Gold: +27%","s":"Gold"},
      {"rank":2,"num":"2.","label":"Global stocks: +18%","s":"Global stocks"},
      {"rank":3,"num":"3.","label":"High Yield bonds: +11%","s":"High Yield bonds"},
      {"rank":4,"num":"4.","label":"US dollar: +8%","s":"US dollar"},
      {"rank":5,"num":"5.","label":"Commodities: +5%","s":"Commodities"},
      {"rank":6,"num":"6.","label":"Government bonds: +3%","s":"Government bonds"}
    ],
    "refs": [
      {"level":0},{"level":35},{"level":-5}
    ],
    "contrib": [
      {"seg":"Magnificent Seven","share":45,"ord":1},
      {"seg":"Other US stocks","share":42,"ord":2},
      {"seg":"Non-US stocks","share":13,"ord":3}
    ]
  },
  "hconcat": [
    {
      "width": 1371,
      "height": 836,
      "resolve": {"scale": {"x": "independent", "y": "independent", "color": "independent"}},
      "layer": [
        {
          "layer": [
            {
              "data": {"name": "series"},
              "transform": [{"filter": {"field": "s", "oneOf": ["Gold", "High Yield bonds", "US dollar", "Commodities", "Government bonds"]}}],
              "mark": {"type": "line", "strokeWidth": 3.5, "strokeJoin": "round"},
              "encoding": {
                "x": {
                  "field": "day", "type": "quantitative",
                  "scale": {"domain": [0, 365], "nice": false, "zero": false},
                  "axis": {
                    "values": [0, 91, 182, 274],
                    "labelExpr": "datum.value == 0 ? 'Jan-24' : datum.value == 91 ? 'Apr-24' : datum.value == 182 ? 'Jul-24' : 'Oct-24'",
                    "labelFontSize": 32, "labelColor": "#000000", "labelPadding": 27,
                    "labelFlush": false, "labelOverlap": false,
                    "ticks": false, "tickSize": 0, "domain": false, "grid": false, "title": null
                  }
                },
                "y": {
                  "field": "v", "type": "quantitative",
                  "scale": {"domain": [-5, 35], "nice": false, "zero": false},
                  "axis": {
                    "values": [-5, 0, 5, 10, 15, 20, 25, 30, 35],
                    "labelExpr": "datum.value == 0 ? '-' : datum.value + '%'",
                    "labelFontSize": 32,
                    "labelColor": {"condition": {"test": "datum.value < 0", "value": "#E8202A"}, "value": "#000000"},
                    "labelPadding": 30, "labelOverlap": false,
                    "ticks": false, "tickSize": 0, "domain": false,
                    "grid": true, "gridColor": "#D9D9D9", "gridWidth": 1.5, "title": null
                  }
                },
                "color": {
                  "field": "s", "type": "nominal", "legend": null,
                  "scale": {
                    "domain": ["Gold", "High Yield bonds", "US dollar", "Commodities", "Government bonds"],
                    "range": ["#EBD2A4", "#EDD5D5", "#CDD6A9", "#D2D2D2", "#A9D2D8"]
                  }
                }
              }
            },
            {
              "data": {"name": "refs"},
              "mark": {"type": "rule", "strokeWidth": 2},
              "encoding": {
                "y": {"field": "level", "type": "quantitative", "title": null},
                "color": {"condition": {"test": "datum.level == 0", "value": "#A3A3A3"}, "value": "#C4C4C4"}
              }
            },
            {
              "data": {"name": "series"},
              "transform": [{"filter": "datum.s == 'Global stocks'"}],
              "mark": {"type": "line", "strokeWidth": 5.5, "color": "#1F3864", "strokeJoin": "round"},
              "encoding": {
                "x": {"field": "day", "type": "quantitative", "title": null},
                "y": {"field": "v", "type": "quantitative", "title": null}
              }
            },
            {
              "data": {"name": "series"},
              "transform": [{"filter": "datum.s == 'US CPI'"}],
              "mark": {"type": "line", "interpolate": "step-after", "strokeWidth": 3.6, "strokeCap": "round", "strokeDash": [0.5, 7.8], "color": "#8B1A3C"},
              "encoding": {
                "x": {"field": "day", "type": "quantitative", "title": null},
                "y": {"field": "v", "type": "quantitative", "title": null}
              }
            }
          ]
        },
        {
          "layer": [
            {
              "data": {"values": [{}]},
              "mark": {"type": "rect", "fill": "#FFFFFF", "stroke": "#7F7F7F", "strokeWidth": 1.5},
              "encoding": {
                "x": {"datum": -0.8, "type": "quantitative", "scale": {"domain": [0, 365], "nice": false, "zero": false}, "axis": null},
                "x2": {"datum": 135.5},
                "y": {"datum": -0.99, "type": "quantitative", "scale": {"domain": [-1.173, 19.47], "nice": false, "zero": false, "reverse": true}, "axis": null},
                "y2": {"datum": 8.4}
              }
            },
            {
              "data": {"values": [{"t": "Returns:"}]},
              "mark": {"type": "text", "align": "left", "baseline": "alphabetic", "fontSize": 32, "fontWeight": "bold", "color": "#000000"},
              "encoding": {
                "x": {"datum": 7.98, "type": "quantitative", "axis": null},
                "y": {"datum": 0, "type": "quantitative", "axis": null},
                "text": {"field": "t"}
              }
            },
            {
              "data": {"values": [{}]},
              "mark": {"type": "rule", "color": "#000000", "strokeWidth": 2},
              "encoding": {
                "x": {"datum": 7.8, "type": "quantitative", "axis": null},
                "x2": {"datum": 43.3},
                "y": {"datum": 0.1, "type": "quantitative", "axis": null}
              }
            },
            {
              "data": {"name": "legend"},
              "mark": {"type": "text", "align": "left", "baseline": "alphabetic", "fontSize": 32},
              "encoding": {
                "x": {"datum": 7.98, "type": "quantitative", "axis": null},
                "y": {"field": "rank", "type": "quantitative", "axis": null},
                "text": {"field": "num"},
                "color": {"condition": {"test": "datum.rank == 3", "value": "#1F3864"}, "value": "#000000"}
              }
            },
            {
              "data": {"name": "legend"},
              "mark": {"type": "text", "align": "left", "baseline": "alphabetic", "fontSize": 32, "dx": 36},
              "encoding": {
                "x": {"datum": 7.98, "type": "quantitative", "axis": null},
                "y": {"field": "rank", "type": "quantitative", "axis": null},
                "text": {"field": "label"},
                "color": {
                  "field": "s", "type": "nominal", "legend": null,
                  "scale": {
                    "domain": ["Gold", "Global stocks", "High Yield bonds", "US dollar", "Commodities", "Government bonds"],
                    "range": ["#D9A24E", "#1F3864", "#D6A8A9", "#9DAF5A", "#A6A6A6", "#4AA2AC"]
                  }
                }
              }
            },
            {
              "data": {"values": [{"t": "US CPI inflation: +3%"}]},
              "mark": {"type": "text", "align": "left", "baseline": "alphabetic", "fontSize": 32, "fontStyle": "italic", "color": "#8B1A3C"},
              "encoding": {
                "x": {"datum": 7.98, "type": "quantitative", "axis": null},
                "y": {"datum": 8, "type": "quantitative", "axis": null},
                "text": {"field": "t"}
              }
            }
          ]
        }
      ]
    },
    {
      "width": 256,
      "height": 836,
      "encoding": {
        "x": {"type": "quantitative", "scale": {"domain": [0, 100], "nice": false, "zero": false}, "axis": null},
        "y": {"type": "quantitative", "scale": {"domain": [-53.2, 131.1], "nice": false, "zero": false}, "axis": null}
      },
      "layer": [
        {
          "data": {"name": "contrib"},
          "transform": [{"stack": "share", "groupby": [], "sort": [{"field": "ord", "order": "ascending"}], "as": ["y0", "y1"]}],
          "mark": {"type": "rect"},
          "encoding": {
            "x": {"datum": 16.9, "type": "quantitative"},
            "x2": {"datum": 99.2},
            "y": {"field": "y0", "type": "quantitative"},
            "y2": {"field": "y1"},
            "fill": {
              "field": "seg", "type": "nominal", "legend": null,
              "scale": {"domain": ["Magnificent Seven", "Other US stocks", "Non-US stocks"], "range": ["#D7DCE6", "#EFDEC2", "#E7D2DB"]}
            }
          }
        },
        {
          "data": {"name": "contrib"},
          "transform": [
            {"stack": "share", "groupby": [], "sort": [{"field": "ord", "order": "ascending"}], "as": ["y0", "y1"]},
            {"filter": "datum.ord < 3"}
          ],
          "mark": {"type": "rule", "color": "#1F3864", "strokeWidth": 1, "strokeDash": [1.5, 1.5]},
          "encoding": {
            "x": {"datum": 16.9, "type": "quantitative"},
            "x2": {"datum": 99.2},
            "y": {"field": "y1", "type": "quantitative"}
          }
        },
        {
          "data": {"values": [{}]},
          "mark": {"type": "rect", "fill": null, "stroke": "#1F3864", "strokeWidth": 1.6},
          "encoding": {
            "x": {"datum": 16.9, "type": "quantitative"},
            "x2": {"datum": 99.2},
            "y": {"datum": 0, "type": "quantitative"},
            "y2": {"datum": 100}
          }
        },
        {
          "data": {"values": [{}]},
          "mark": {"type": "point", "filled": false, "stroke": "#1F3864", "strokeWidth": 1.8, "size": 206116,
                   "shape": "M0.088,-1 Q0,-1 0,-0.95 L0,-0.06 Q0,-0.008 -0.066,0 Q0,0.008 0,0.06 L0,0.95 Q0,1 0.088,1"},
          "encoding": {
            "x": {"datum": 7.0, "type": "quantitative"},
            "y": {"datum": 50.0, "type": "quantitative"}
          }
        },
        {
          "data": {"values": [{"t": ["Global stock", "market", "contributions"]}]},
          "mark": {"type": "text", "align": "center", "baseline": "alphabetic", "fontSize": 24, "fontStyle": "italic", "lineHeight": 30, "color": "#1F3864"},
          "encoding": {
            "x": {"datum": 58.2, "type": "quantitative"},
            "y": {"datum": 116.3, "type": "quantitative"},
            "text": {"field": "t"}
          }
        },
        {
          "data": {"values": [{"t": "Non-US stocks"}]},
          "mark": {"type": "text", "align": "center", "baseline": "alphabetic", "fontSize": 22, "color": "#8B1A3C"},
          "encoding": {"x": {"datum": 58.2, "type": "quantitative"}, "y": {"datum": 93.2, "type": "quantitative"}, "text": {"field": "t"}}
        },
        {
          "data": {"values": [{"t": "13%"}]},
          "mark": {"type": "text", "align": "center", "baseline": "alphabetic", "fontSize": 22, "fontWeight": "bold", "color": "#8B1A3C"},
          "encoding": {"x": {"datum": 58.2, "type": "quantitative"}, "y": {"datum": 87.4, "type": "quantitative"}, "text": {"field": "t"}}
        },
        {
          "data": {"values": [{"t": "Other US stocks"}]},
          "mark": {"type": "text", "align": "center", "baseline": "alphabetic", "fontSize": 22, "color": "#CCA25A"},
          "encoding": {"x": {"datum": 58.2, "type": "quantitative"}, "y": {"datum": 70.2, "type": "quantitative"}, "text": {"field": "t"}}
        },
        {
          "data": {"values": [{"t": "42%"}]},
          "mark": {"type": "text", "align": "center", "baseline": "alphabetic", "fontSize": 22, "fontWeight": "bold", "color": "#CCA25A"},
          "encoding": {"x": {"datum": 58.2, "type": "quantitative"}, "y": {"datum": 64.4, "type": "quantitative"}, "text": {"field": "t"}}
        },
        {
          "data": {"values": [{"t": ["Magnificent", "Seven"]}]},
          "mark": {"type": "text", "align": "center", "baseline": "alphabetic", "fontSize": 22, "lineHeight": 28.3, "color": "#1F3864"},
          "encoding": {"x": {"datum": 58.2, "type": "quantitative"}, "y": {"datum": 39.2, "type": "quantitative"}, "text": {"field": "t"}}
        },
        {
          "data": {"values": [{"t": "45%"}]},
          "mark": {"type": "text", "align": "center", "baseline": "alphabetic", "fontSize": 22, "fontWeight": "bold", "color": "#1F3864"},
          "encoding": {"x": {"datum": 58.2, "type": "quantitative"}, "y": {"datum": 27.0, "type": "quantitative"}, "text": {"field": "t"}}
        },
        {
          "data": {"values": [{}]},
          "mark": {"type": "point", "filled": true, "color": "#F3F3F5", "opacity": 1, "size": 31684,
                   "shape": "M-1,0 A1,0.59 0 1,1 1,0 A1,0.59 0 1,1 -1,0 Z"},
          "encoding": {"x": {"datum": 58.2, "type": "quantitative"}, "y": {"datum": 13.7, "type": "quantitative"}}
        },
        {
          "data": {"values": [{}]},
          "mark": {"type": "point", "filled": true, "color": "#76B900", "opacity": 1, "size": 484,
                   "shape": "M-1,0.05 C-0.5,-0.75 0.5,-0.75 1,0.05 C0.5,0.7 -0.5,0.7 -1,0.05 Z"},
          "encoding": {"x": {"datum": 47.3, "type": "quantitative"}, "y": {"datum": 20.8, "type": "quantitative"}}
        },
        {
          "data": {"values": [{"t": "NVIDIA"}]},
          "mark": {"type": "text", "align": "left", "baseline": "alphabetic", "fontSize": 14.5, "fontWeight": "bold", "color": "#1A1A1A"},
          "encoding": {"x": {"datum": 51.6, "type": "quantitative"}, "y": {"datum": 19.3, "type": "quantitative"}, "text": {"field": "t"}}
        },
        {
          "data": {"values": [{}]},
          "mark": {"type": "point", "filled": true, "color": "#E31937", "opacity": 1, "size": 784,
                   "shape": "M-1,-0.78 C-0.4,-1.02 0.4,-1.02 1,-0.78 L0.92,-0.62 C0.7,-0.72 0.45,-0.76 0.16,-0.76 L0.1,1 L-0.1,1 L-0.16,-0.76 C-0.45,-0.76 -0.7,-0.72 -0.92,-0.62 Z"},
          "encoding": {"x": {"datum": 34.4, "type": "quantitative"}, "y": {"datum": 16.4, "type": "quantitative"}}
        },
        {
          "data": {"values": [{"t": "T E S L A"}]},
          "mark": {"type": "text", "align": "center", "baseline": "alphabetic", "fontSize": 6.5, "fontWeight": "bold", "color": "#E31937"},
          "encoding": {"x": {"datum": 34.0, "type": "quantitative"}, "y": {"datum": 10.4, "type": "quantitative"}, "text": {"field": "t"}}
        },
        {
          "data": {"values": [{}]},
          "mark": {"type": "point", "filled": true, "color": "#6B6B6B", "opacity": 1, "size": 1296,
                   "shape": "M0.02,-0.5 C0.25,-0.62 0.75,-0.65 0.85,-0.2 C0.55,-0.05 0.55,0.4 0.88,0.5 C0.75,0.85 0.52,1 0.35,1 C0.2,1 0.12,0.92 0,0.92 C-0.12,0.92 -0.22,1 -0.35,1 C-0.62,1 -0.85,0.45 -0.85,0.05 C-0.85,-0.5 -0.45,-0.65 -0.2,-0.58 C-0.1,-0.55 -0.05,-0.5 0.02,-0.5 Z M0.05,-0.65 C0.05,-0.9 0.25,-1 0.4,-1 C0.42,-0.8 0.25,-0.65 0.05,-0.65 Z"},
          "encoding": {"x": {"datum": 50.0, "type": "quantitative"}, "y": {"datum": 14.0, "type": "quantitative"}}
        },
        {
          "data": {"values": [{}]},
          "mark": {"type": "square", "color": "#F25022", "opacity": 1, "size": 200},
          "encoding": {"x": {"datum": 65.8, "type": "quantitative"}, "y": {"datum": 14.1, "type": "quantitative"}}
        },
        {
          "data": {"values": [{}]},
          "mark": {"type": "square", "color": "#7FBA00", "opacity": 1, "size": 200},
          "encoding": {"x": {"datum": 71.7, "type": "quantitative"}, "y": {"datum": 14.1, "type": "quantitative"}}
        },
        {
          "data": {"values": [{}]},
          "mark": {"type": "square", "color": "#00A4EF", "opacity": 1, "size": 200},
          "encoding": {"x": {"datum": 65.8, "type": "quantitative"}, "y": {"datum": 10.6, "type": "quantitative"}}
        },
        {
          "data": {"values": [{}]},
          "mark": {"type": "square", "color": "#FFB900", "opacity": 1, "size": 200},
          "encoding": {"x": {"datum": 71.7, "type": "quantitative"}, "y": {"datum": 10.6, "type": "quantitative"}}
        },
        {
          "data": {"values": [{}]},
          "mark": {"type": "point", "filled": false, "stroke": "#0866FF", "strokeWidth": 4.5, "opacity": 1, "size": 1156,
                   "shape": "M0,0.05 C-0.25,-0.45 -0.5,-0.6 -0.7,-0.6 C-0.95,-0.6 -1,-0.2 -1,0.05 C-1,0.35 -0.85,0.55 -0.65,0.55 C-0.4,0.55 -0.2,0.2 0,-0.1 C0.2,-0.45 0.45,-0.6 0.65,-0.6 C0.9,-0.6 1,-0.25 1,0.05 C1,0.4 0.85,0.55 0.65,0.55 C0.4,0.55 0.2,0.35 0,0.05 Z"},
          "encoding": {"x": {"datum": 83.2, "type": "quantitative"}, "y": {"datum": 14.6, "type": "quantitative"}}
        },
        {
          "data": {"values": [{"t": "amazon"}]},
          "mark": {"type": "text", "align": "center", "baseline": "alphabetic", "fontSize": 16, "fontWeight": "bold", "color": "#111111"},
          "encoding": {"x": {"datum": 46.1, "type": "quantitative"}, "y": {"datum": 4.5, "type": "quantitative"}, "text": {"field": "t"}}
        },
        {
          "data": {"values": [{}]},
          "mark": {"type": "point", "filled": false, "stroke": "#FF9900", "strokeWidth": 2.5, "opacity": 1, "size": 1444,
                   "shape": "M-1,-0.35 C-0.4,0.2 0.4,0.2 0.95,-0.2 M0.65,-0.35 L0.97,-0.2 L0.85,0.1"},
          "encoding": {"x": {"datum": 46.9, "type": "quantitative"}, "y": {"datum": 3.2, "type": "quantitative"}}
        },
        {
          "data": {"values": [{"t": "Alphabet"}]},
          "mark": {"type": "text", "align": "center", "baseline": "alphabetic", "fontSize": 17, "color": "#EA4335"},
          "encoding": {"x": {"datum": 72.1, "type": "quantitative"}, "y": {"datum": 5.4, "type": "quantitative"}, "text": {"field": "t"}}
        }
      ]
    }
  ]
}
